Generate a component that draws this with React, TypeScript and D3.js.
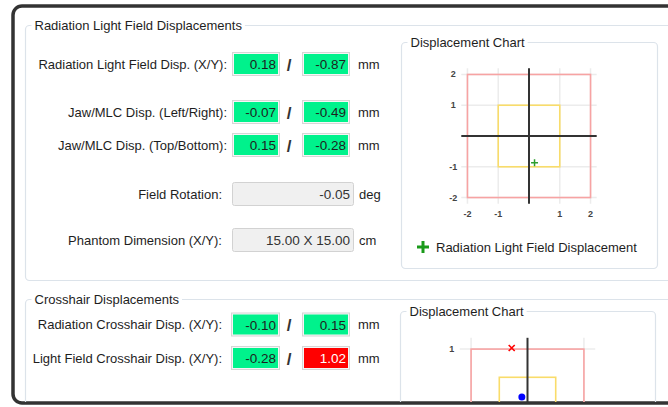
import { useEffect, useRef } from "react";
import * as d3 from "d3";

// values
const dispLabels = [
  "Radiation Light Field Disp. (X/Y):",
  "Jaw/MLC Disp. (Left/Right):",
  "Jaw/MLC Disp. (Top/Bottom):",
];
const dispX = [0.18, -0.07, 0.15];
const dispY = [-0.87, -0.49, -0.28];
const fieldRotation = -0.05;
const phantomDim = [15.0, 15.0];

const crossLabels = [
  "Radiation Crosshair Disp. (X/Y):",
  "Light Field Crosshair Disp. (X/Y):",
];
const crossX = [-0.1, -0.28];
const crossY = [0.15, 1.02];

// chart limits (tolerance squares) and ticks
const chart1Ticks = [-2, -1, 1, 2];
const chart1Limits = [1, 2]; // yellow, red
const chart2Ticks = [-1, 1];
const chart2Limits = [0.5, 1];

const W = 668;
const H = 407;
const FONT = "'Liberation Sans', Arial, sans-serif";
const GREEN = "#00f28c";
const RED = "#ff0000";
const VISIBLE_BOTTOM = 398; // window frame cuts the lower chart

type Sel = d3.Selection<SVGGElement, unknown, null, undefined>;

export default function App() {
  const ref = useRef<SVGSVGElement>(null);

  useEffect(() => {
    const svg = d3.select(ref.current);
    svg.selectAll("*").remove();

    svg
      .append("defs")
      .append("clipPath")
      .attr("id", "win")
      .append("rect")
      .attr("x", 14)
      .attr("y", 7)
      .attr("width", 720)
      .attr("height", 395)
      .attr("rx", 8);

    // window frame
    svg
      .append("rect")
      .attr("x", 13)
      .attr("y", 6)
      .attr("width", 720)
      .attr("height", 397)
      .attr("rx", 9)
      .attr("fill", "#fff")
      .attr("stroke", "#333")
      .attr("stroke-width", 3.5);

    const root = svg.append("g").attr("clip-path", "url(#win)");

    // group box with title that breaks the border line
    const groupBox = (x: number, y: number, w: number, h: number, title: string) => {
      const g = root.append("g");
      g.append("rect")
        .attr("x", x)
        .attr("y", y)
        .attr("width", w)
        .attr("height", h)
        .attr("rx", 4)
        .attr("fill", "none")
        .attr("stroke", "#dce3ea")
        .attr("stroke-width", 1.2);
      const bg = g.append("rect").attr("fill", "#fff");
      const t = g
        .append("text")
        .attr("x", x + 9)
        .attr("y", y)
        .attr("dominant-baseline", "central")
        .attr("font-family", FONT)
        .attr("font-size", 13)
        .attr("fill", "#1e1e1e")
        .text(title);
      const len = (t.node() as SVGTextElement).getComputedTextLength();
      bg.attr("x", x + 6).attr("y", y - 3).attr("width", len + 6).attr("height", 6);
      return g;
    };

    const label = (x: number, cy: number, s: string, anchor = "end") =>
      root
        .append("text")
        .attr("x", x)
        .attr("y", cy)
        .attr("text-anchor", anchor)
        .attr("dominant-baseline", "central")
        .attr("font-family", FONT)
        .attr("font-size", 13)
        .attr("fill", "#1e1e1e")
        .text(s);

    const valueBox = (x: number, cy: number, w: number, v: string, fill: string, color = "#1e1e1e") => {
      if (fill === "#f0f0f0") {
        root
          .append("rect")
          .attr("x", x + 0.5)
          .attr("y", cy - 11.5)
          .attr("width", w)
          .attr("height", 23)
          .attr("rx", 2)
          .attr("fill", fill)
          .attr("stroke", "#d2d2d2");
      } else {
        root
          .append("rect")
          .attr("x", x + 0.5)
          .attr("y", cy - 11.5)
          .attr("width", w)
          .attr("height", 23)
          .attr("fill", "#f6f6f6")
          .attr("stroke", "#d6d6d6");
        root
          .append("rect")
          .attr("x", x + 2)
          .attr("y", cy - 10)
          .attr("width", w - 3)
          .attr("height", 20)
          .attr("fill", fill);
      }
      root
        .append("text")
        .attr("x", x + w - 3)
        .attr("y", cy + 0.5)
        .attr("text-anchor", "end")
        .attr("dominant-baseline", "central")
        .attr("font-family", FONT)
        .attr("font-size", 13.5)
        .attr("fill", color)
        .text(v);
    };

    const slash = (cy: number) =>
      root
        .append("text")
        .attr("x", 289)
        .attr("y", cy + 1)
        .attr("text-anchor", "middle")
        .attr("dominant-baseline", "central")
        .attr("font-family", FONT)
        .attr("font-size", 17)
        .attr("font-weight", "bold")
        .attr("fill", "#333")
        .text("/");

    // ---- Radiation Light Field Displacements ----
    groupBox(25.5, 25.5, 700, 255, "Radiation Light Field Displacements");
    const rowY = [64, 112, 145];
    dispLabels.forEach((s, i) => {
      label(227, rowY[i], s);
      valueBox(232, rowY[i], 47, dispX[i].toFixed(2), GREEN);
      slash(rowY[i]);
      valueBox(302, rowY[i], 47, dispY[i].toFixed(2), GREEN);
      label(358, rowY[i], "mm", "start");
    });
    label(222, 194, "Field Rotation:");
    valueBox(232, 194, 121, fieldRotation.toFixed(2), "#f0f0f0", "#333");
    label(359, 194, "deg", "start");
    label(222, 240, "Phantom Dimension (X/Y):");
    valueBox(232, 240, 121, `${phantomDim[0].toFixed(2)} X ${phantomDim[1].toFixed(2)}`, "#f0f0f0", "#333");
    label(359, 240, "cm", "start");

    // ---- Crosshair Displacements ----
    groupBox(25.5, 299.5, 700, 200, "Crosshair Displacements");
    const crossRowY = [324.5, 358];
    crossLabels.forEach((s, i) => {
      label(222, crossRowY[i], s);
      const fx = Math.abs(crossX[i]) > chart2Limits[1] ? RED : GREEN;
      const fy = Math.abs(crossY[i]) > chart2Limits[1] ? RED : GREEN;
      valueBox(231, crossRowY[i], 48, crossX[i].toFixed(2), fx, fx === RED ? "#fff" : "#1e1e1e");
      slash(crossRowY[i]);
      valueBox(302, crossRowY[i], 47, crossY[i].toFixed(2), fy, fy === RED ? "#fff" : "#1e1e1e");
      label(358, crossRowY[i], "mm", "start");
    });

    // ---- displacement charts ----
    const drawChart = (g: Sel, cx: number, cy: number, limit: number, ticks: number[], squares: number[]) => {
      const half = 67.7;
      const x = d3.scaleLinear().domain([-limit, limit]).range([cx - half, cx + half]);
      const y = d3.scaleLinear().domain([-limit, limit]).range([cy + half, cy - half]);

      ticks.forEach((t) => {
        g.append("line")
          .attr("x1", x(t)).attr("x2", x(t))
          .attr("y1", y(-limit)).attr("y2", y(limit))
          .attr("stroke", "#ececec").attr("stroke-width", 1.5);
        g.append("line")
          .attr("x1", x(-limit)).attr("x2", x(limit))
          .attr("y1", y(t)).attr("y2", y(t))
          .attr("stroke", "#ececec").attr("stroke-width", 1.5);
      });

      const colors = ["#f9dc6a", "#f7a3a3"];
      squares.forEach((s, i) => {
        g.append("rect")
          .attr("x", x(-s))
          .attr("y", y(s))
          .attr("width", x(s) - x(-s))
          .attr("height", y(-s) - y(s))
          .attr("fill", "none")
          .attr("stroke", colors[i])
          .attr("stroke-width", 1.6);
      });

      g.append("line")
        .attr("x1", x(-limit)).attr("x2", x(limit))
        .attr("y1", y(0)).attr("y2", y(0))
        .attr("stroke", "#333").attr("stroke-width", 2);
      g.append("line")
        .attr("x1", x(0)).attr("x2", x(0))
        .attr("y1", y(-limit)).attr("y2", y(limit))
        .attr("stroke", "#333").attr("stroke-width", 2);

      const tickText = (tx: number, ty: number, s: string) => {
        if (ty > VISIBLE_BOTTOM) return; // hidden behind the window frame
        g.append("text")
          .attr("x", tx)
          .attr("y", ty)
          .attr("text-anchor", "middle")
          .attr("dominant-baseline", "central")
          .attr("font-family", FONT)
          .attr("font-size", 9)
          .attr("font-weight", "bold")
          .attr("fill", "#444")
          .text(s);
      };
      ticks.forEach((t) => {
        tickText(x(t), y(-limit) + 10, String(t));
        tickText(x(-limit) - 8, y(t), String(t));
      });
      return { x, y };
    };

    const g1 = groupBox(401.5, 42.5, 256, 226, "Displacement Chart");
    const c1 = drawChart(g1, 529, 136, 2.2, chart1Ticks, chart1Limits);
    const plus = (g: Sel, px: number, py: number, r: number, w: number, color: string) =>
      g.append("path")
        .attr("d", `M${px - r},${py}H${px + r}M${px},${py - r}V${py + r}`)
        .attr("stroke", color)
        .attr("stroke-width", w);
    plus(g1, c1.x(dispX[0]), c1.y(dispY[0]), 3.5, 1.5, "#2e9e2e");
    plus(g1, 423, 247, 6, 3, "#1a9a1a");
    g1.append("text")
      .attr("x", 436)
      .attr("y", 247)
      .attr("dominant-baseline", "central")
      .attr("font-family", FONT)
      .attr("font-size", 13)
      .attr("fill", "#1e1e1e")
      .text("Radiation Light Field Displacement");

    const g2 = groupBox(400.5, 311.5, 255, 200, "Displacement Chart");
    const c2 = drawChart(g2, 527.5, 405.5, 1.2, chart2Ticks, chart2Limits);
    // light field crosshair: red x
    const lx = c2.x(crossX[1]);
    const ly = c2.y(crossY[1]);
    g2.append("path")
      .attr("d", `M${lx - 3},${ly - 3}L${lx + 3},${ly + 3}M${lx - 3},${ly + 3}L${lx + 3},${ly - 3}`)
      .attr("stroke", "#ff0000")
      .attr("stroke-width", 1.6);
    // radiation crosshair: blue dot
    g2.append("circle")
      .attr("cx", c2.x(crossX[0]))
      .attr("cy", c2.y(crossY[0]))
      .attr("r", 3.5)
      .attr("fill", "#0000ff");
  }, []);

  return (
    <svg
      ref={ref}
      width={W}
      height={H}
      style={{ position: "absolute", left: 0, top: 0, background: "#fff" }}
    />
  );
}
